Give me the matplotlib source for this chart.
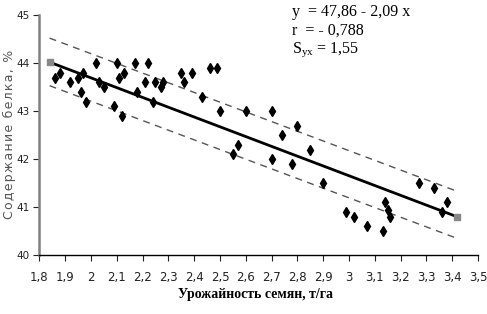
import numpy as np
import matplotlib.pyplot as plt

plt.rcParams['mathtext.fontset'] = 'custom'
plt.rcParams['mathtext.rm'] = 'Liberation Serif'

# урожайность семян (т/га) и содержание белка (%)
yield_t = [1.86, 1.88, 1.92, 1.95, 1.96, 1.97, 1.98, 2.02, 2.03, 2.05,
           2.09, 2.10, 2.11, 2.12, 2.13, 2.17, 2.18, 2.21, 2.22, 2.24,
           2.25, 2.27, 2.28, 2.35, 2.36, 2.39, 2.43, 2.46, 2.49, 2.50,
           2.55, 2.57, 2.60, 2.70, 2.70, 2.74, 2.78, 2.80, 2.85, 2.90,
           2.99, 3.02, 3.07, 3.13, 3.14, 3.15, 3.16, 3.27, 3.33, 3.36, 3.38]
protein = [43.7, 43.8, 43.6, 43.7, 43.4, 43.8, 43.2, 44.0, 43.6, 43.5,
           43.1, 44.0, 43.7, 42.9, 43.8, 44.0, 43.4, 43.6, 44.0, 43.2,
           43.6, 43.5, 43.6, 43.8, 43.6, 43.8, 43.3, 43.9, 43.9, 43.0,
           42.1, 42.3, 43.0, 43.0, 42.0, 42.5, 41.9, 42.7, 42.2, 41.5,
           40.9, 40.8, 40.6, 40.5, 41.1, 40.95, 40.8, 41.5, 41.4, 40.9, 41.1]

# линия регрессии и границы (концы отрезков)
reg_x = [1.84, 3.42]
reg_y = [44.02, 40.80]
upper_y = [44.52, 41.33]
lower_y = [43.53, 40.35]

xticks = [1.8, 1.9, 2.0, 2.1, 2.2, 2.3, 2.4, 2.5, 2.6, 2.7, 2.8, 2.9, 3.0, 3.1, 3.2, 3.3, 3.4, 3.5]
xlabels = ['1,8', '1,9', '2', '2,1', '2,2', '2,3', '2,4', '2,5', '2,6', '2,7',
           '2,8', '2,9', '3', '3,1', '3,2', '3,3', '3,4', '3,5']
yticks = [40, 41, 42, 43, 44, 45]

fig = plt.figure(figsize=(4.87, 3.14), dpi=100)
ax = fig.add_axes([0.0807, 0.187, 0.9008, 0.765])

ax.plot(reg_x, upper_y, color='#555555', lw=1, ls=(0, (5, 4)))
ax.plot(reg_x, lower_y, color='#555555', lw=1, ls=(0, (5, 4)))
ax.plot(reg_x, reg_y, color='black', lw=2, marker='s', ms=4,
        mfc='#888888', mec='#888888')
ax.plot(yield_t, protein, 'd', color='black', ms=5, ls='none')

ax.set_xlim(1.8, 3.5)
ax.set_ylim(40, 45)
ax.set_xticks(xticks)
ax.set_xticklabels(xlabels)
ax.set_yticks(yticks)

for s in ['top', 'right']:
    ax.spines[s].set_visible(False)
ax.spines['left'].set_color('#808080')
ax.spines['left'].set_linewidth(1.8)
ax.spines['bottom'].set_linewidth(1.0)

tick_font = 'Liberation Sans Narrow'
ax.tick_params(axis='x', length=4, width=0.8, pad=7, labelsize=8.5, colors='#222222')
ax.tick_params(axis='y', length=4, width=0.8, pad=3, labelsize=7.5, colors='#222222')
for lab in ax.get_xticklabels() + ax.get_yticklabels():
    lab.set_family([tick_font, 'DejaVu Sans'])

ylab = '\u200a'.join('Содержание белка, %')
ax.set_ylabel(ylab, fontsize=9, color='#555555', family='DejaVu Sans')
ax.yaxis.set_label_coords(-0.054, 0.505)
ax.set_xlabel('Урожайность семян, т/га', fontsize=10, fontweight='bold',
              family='Liberation Serif')
ax.xaxis.set_label_coords(0.492, -0.136)

fig.text(0.599, 0.963, 'y  = 47,86 - 2,09 x', fontsize=11.5, family='Liberation Serif', va='center')
fig.text(0.599, 0.901, 'r  = - 0,788', fontsize=11.5, family='Liberation Serif', va='center')
fig.text(0.599, 0.841, r'S$_{\mathrm{yx}}$ = 1,55', fontsize=11.5, family='Liberation Serif', va='center')

fig.savefig('out.png', dpi=100)
